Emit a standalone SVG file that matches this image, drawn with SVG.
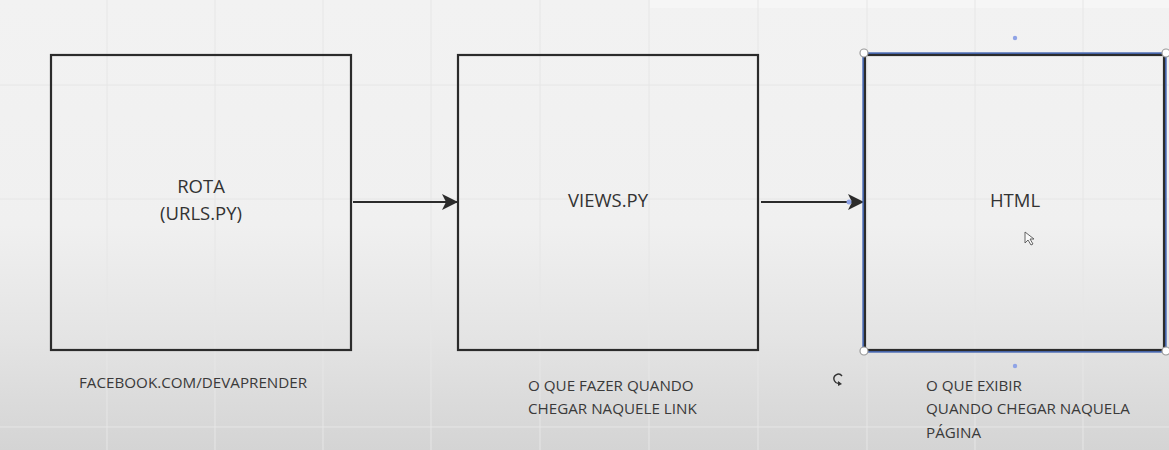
<svg xmlns="http://www.w3.org/2000/svg" width="1169" height="450" viewBox="0 0 1169 450">
  <defs>
    <linearGradient id="bg" x1="0" y1="0" x2="0" y2="1">
      <stop offset="0" stop-color="#f2f2f2"/>
      <stop offset="0.5" stop-color="#f0f0f0"/>
      <stop offset="0.75" stop-color="#e4e4e4"/>
      <stop offset="1" stop-color="#d4d4d4"/>
    </linearGradient>
    <marker id="arrow" viewBox="0 0 16 16" refX="15" refY="8" markerWidth="16" markerHeight="16" markerUnits="userSpaceOnUse" orient="auto">
      <path d="M0,0 L16,8 L0,16 L4,8 Z" fill="#2b2b2b"/>
    </marker>
    <style>
      .box { fill: none; stroke: #2b2b2b; stroke-width: 2.2; }
      .sel { fill: none; stroke: #4a6bb5; stroke-width: 3.4; }
      .grid { stroke: #e6e6e6; stroke-width: 1; }
      .title { font-family: "Open Sans", "Noto Sans", sans-serif; font-size: 18.5px; fill: #333333; text-anchor: middle; }
      .note { font-family: "Open Sans", "Noto Sans", sans-serif; font-size: 15.2px; fill: #3a3a3a; }
      .handle { fill: #ffffff; stroke: #9a9a9a; stroke-width: 1.2; }
      .dot { fill: #8fa3e6; }
      .conn { stroke: #2b2b2b; stroke-width: 2.2; fill: none; }
    </style>
  </defs>
  <rect x="0" y="0" width="1169" height="450" fill="url(#bg)"/>
  <rect x="650" y="0" width="519" height="8" fill="#f6f6f6"/>
  <g id="grid">
    <line class="grid" x1="107" y1="0" x2="107" y2="450"/>
    <line class="grid" x1="215" y1="0" x2="215" y2="450"/>
    <line class="grid" x1="323" y1="0" x2="323" y2="450"/>
    <line class="grid" x1="431" y1="0" x2="431" y2="450"/>
    <line class="grid" x1="540" y1="0" x2="540" y2="450"/>
    <line class="grid" x1="649" y1="0" x2="649" y2="450"/>
    <line class="grid" x1="758" y1="0" x2="758" y2="450"/>
    <line class="grid" x1="867" y1="0" x2="867" y2="450"/>
    <line class="grid" x1="975" y1="0" x2="975" y2="450"/>
    <line class="grid" x1="1083" y1="0" x2="1083" y2="450"/>
    <line class="grid" x1="0" y1="85" x2="1169" y2="85"/>
    <line class="grid" x1="0" y1="199" x2="1169" y2="199"/>
    <line class="grid" x1="0" y1="313" x2="1169" y2="313"/>
    <line class="grid" x1="0" y1="427" x2="1169" y2="427"/>
  </g>
  <g id="connectors">
    <line class="conn" x1="353" y1="202" x2="457" y2="202" marker-end="url(#arrow)"/>
    <line class="conn" x1="761" y1="202" x2="863" y2="202" marker-end="url(#arrow)"/>
    <circle class="dot" cx="849" cy="202" r="2.5"/>
  </g>
  <g id="node-rota">
    <rect class="box" x="51" y="55" width="300" height="295"/>
    <text class="title" x="201" y="193">ROTA</text>
    <text class="title" x="201" y="220">(URLS.PY)</text>
    <text class="note" x="79" y="388">FACEBOOK.COM/DEVAPRENDER</text>
  </g>
  <g id="node-views">
    <rect class="box" x="458" y="55" width="300" height="295"/>
    <text class="title" x="608" y="207">VIEWS.PY</text>
    <text class="note" x="528" y="391">O QUE FAZER QUANDO</text>
    <text class="note" x="528" y="414">CHEGAR NAQUELE LINK</text>
  </g>
  <g id="node-html">
    <rect class="sel" x="864" y="54" width="301" height="297"/>
    <rect class="box" x="865" y="55" width="299" height="295" stroke-width="1.4"/>
    <text class="title" x="1015" y="207">HTML</text>
    <text class="note" x="926" y="391">O QUE EXIBIR</text>
    <text class="note" x="926" y="414">QUANDO CHEGAR NAQUELA</text>
    <text class="note" x="926" y="438">PÁGINA</text>
    <circle class="handle" cx="864" cy="53" r="4"/>
    <circle class="handle" cx="1166" cy="53" r="4"/>
    <circle class="handle" cx="864" cy="351" r="4"/>
    <circle class="handle" cx="1166" cy="351" r="4"/>
    <circle class="dot" cx="1015" cy="38" r="2.2"/>
    <circle class="dot" cx="1015" cy="366" r="2.2"/>
  </g>
  <g id="ui">
    <path d="M842,376 A4.5,4.5 0 1 0 840,383" fill="none" stroke="#333" stroke-width="1.4"/>
    <path d="M838,381 L842,384 L838,386 Z" fill="#333"/>
    <path d="M1025,232 L1025,243 L1028,240 L1031,245 L1033,244 L1030,239 L1034,239 Z" fill="#fafafa" stroke="#555" stroke-width="0.9"/>
  </g>
</svg>
